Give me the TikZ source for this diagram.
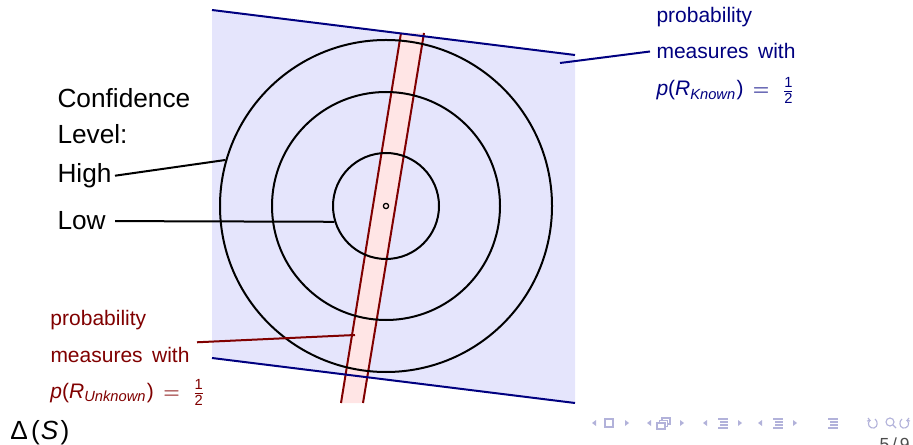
\documentclass[tikz,border=0pt]{standalone}
\usepackage{fontspec}
\usepackage{amsmath}
\setmainfont{Liberation Sans}
\definecolor{regionblue}{RGB}{229,229,252}
\definecolor{strippink}{RGB}{255,229,229}
\definecolor{navyline}{RGB}{0,0,128}
\definecolor{darkredline}{RGB}{128,0,0}
\definecolor{navcol}{RGB}{178,178,218}
\begin{document}
\begin{tikzpicture}[x=0.4pt,y=-0.4pt,
  bigtext/.style={font=\fontsize{10.5}{12.6}\selectfont, inner sep=0pt, anchor=base west},
  lbltext/.style={font=\fontsize{8.4}{10}\selectfont, inner sep=0pt, anchor=base west},
  ring/.style={circle, draw=black, line width=0.8pt, minimum size=#1, inner sep=0pt},
  blueedge/.style={draw=navyline, line width=0.8pt},
  rededge/.style={draw=darkredline, line width=0.8pt},
  conn/.style={line width=0.8pt},
  navsym/.style={navcol, line width=0.45pt}]
\useasboundingbox (0,0) rectangle (913,445);
% region of measures with p(R_Known)=1/2
\coordinate (bTL) at (212,10);
\coordinate (bTR) at (575,55);
\coordinate (bBR) at (575,403);
\coordinate (bBL) at (212,358);
\fill[regionblue] (bTL) -- (bTR) -- (bBR) -- (bBL) -- cycle;
% strip of measures with p(R_Unknown)=1/2
\coordinate (sTL) at (401,33);
\coordinate (sTR) at (424,33);
\coordinate (sBR) at (363,403);
\coordinate (sBL) at (341,403);
\fill[strippink] (sTL) -- (sTR) -- (sBR) -- (sBL) -- cycle;
\draw[rededge] (sTL) -- (sBL);
\draw[rededge] (sTR) -- (sBR);
\draw[blueedge] (bTL) -- (bTR);
\draw[blueedge] (bBL) -- (bBR);
% confidence circles
\node[ring=132.8pt] (outer) at (386,206) {};
\node[ring=91.2pt] (middle) at (386,206) {};
\node[ring=42.4pt] (inner) at (386,206) {};
\node[circle, draw=black, line width=0.5pt, minimum size=2.1pt, inner sep=0pt] (dot) at (386,206) {};
% left labels
\node[bigtext] (conf) at (57,108) {Confidence};
\node[bigtext] (level) at (57,144) {Level:};
\node[bigtext, inner xsep=1.2pt] (high) at (54,182.5) {High};
\node[bigtext, inner xsep=3.6pt] (low) at (48,230) {Low};
\draw[conn] (high.east) -- (outer.164);
\draw[conn] (low.east) -- (inner.197);
% blue label
\node[lbltext, text=navyline] (bProb) at (656,23) {probability};
\node[lbltext, text=navyline, inner xsep=2.4pt] (bMeas) at (650,59) {measures\hspace{0.45em}with};
\node[lbltext, text=navyline] (bFrac) at (656,96) {$\textit{p}\text{(}\textit{R}_{\textit{Known}}\text{)}\mkern3mu = \mkern5mu\frac{\text{1}}{\text{2}}$};
\coordinate (bHook) at (560,63);
\draw[draw=navyline, line width=0.8pt] (bHook) -- (bMeas.west);
% red label
\node[lbltext, text=darkredline] (rProb) at (50,326) {probability};
\node[lbltext, text=darkredline, inner xsep=2.8pt, inner ysep=1.6pt] (rMeas) at (43,362) {measures\hspace{0.45em}with};
\node[lbltext, text=darkredline] (rFrac) at (50,398) {$\textit{p}\text{(}\textit{R}_{\textit{Unknown}}\text{)}\mkern3mu = \mkern5mu\frac{\text{1}}{\text{2}}$};
\coordinate (rHook) at (355,335);
\draw[draw=darkredline, line width=0.8pt] (rMeas.north east) -- (rHook);
% Delta(S)
\node[bigtext] (delta) at (10,439) {Δ\kern0.12em(\kern0.04em\textit{S}\kern0.08em)};
% navigation symbols
\fill[navcol] (592,423) -- (596,420) -- (596,426) -- cycle;
\draw[navsym] (605,419) rectangle (613,427);
\fill[navcol] (629,423) -- (625,420) -- (625,426) -- cycle;
\fill[navcol] (647,423) -- (651,420) -- (651,426) -- cycle;
\draw[navsym] (662,418) rectangle (670,424);
\draw[navsym, fill=white] (659.5,420.5) rectangle (667.5,426.5);
\draw[navsym, fill=white] (657,423) rectangle (665,429);
\fill[navcol] (684,423) -- (680,420) -- (680,426) -- cycle;
\fill[navcol] (703,423) -- (707,420) -- (707,426) -- cycle;
\draw[navsym] (718,419) -- (728,419) (720,422) -- (728,422) (720,425) -- (728,425) (718,428) -- (728,428);
\fill[navcol] (742,423) -- (738,420) -- (738,426) -- cycle;
\fill[navcol] (758,423) -- (762,420) -- (762,426) -- cycle;
\draw[navsym] (773,419) -- (783,419) (775,422) -- (783,422) (775,425) -- (783,425) (773,428) -- (783,428);
\fill[navcol] (797,423) -- (793,420) -- (793,426) -- cycle;
\draw[navsym] (828,419) -- (838,419) (830,422) -- (838,422) (830,425) -- (838,425) (828,428) -- (838,428);
\draw[navsym] (870,420) .. controls (866,424) and (870,429) .. (874,428) .. controls (878,427) and (878,421) .. (875,419);
\draw[navsym] (868,418) -- (870,420.5) -- (867,421);
\draw[navsym] (890,422) circle[radius=4];
\draw[navsym] (893,425) -- (896,428);
\draw[navsym] (907,420) .. controls (911,424) and (907,429) .. (903,428) .. controls (899,427) and (899,421) .. (902,419);
\draw[navsym] (909,418) -- (907,420.5) -- (910,421);
% page number
\node[font=\fontsize{7}{8}\selectfont, anchor=north west, inner sep=0pt, text=black!70] (pagenum) at (879,437) {5\,/\,9};
\end{tikzpicture}
\end{document}
